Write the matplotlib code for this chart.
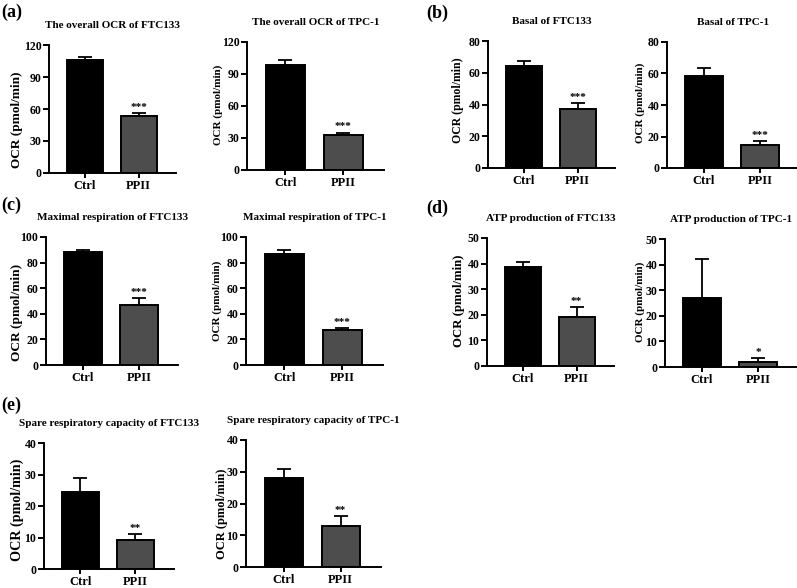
import numpy as np
import matplotlib.pyplot as plt

plt.rcParams['font.family'] = ['Liberation Serif', 'DejaVu Serif']
plt.rcParams['font.weight'] = 'bold'

groups = ['Ctrl', 'PPII']

titles = ['The overall OCR of FTC133', 'The overall OCR of TPC-1',
          'Basal of FTC133', 'Basal of TPC-1',
          'Maximal respiration of FTC133', 'Maximal respiration of TPC-1',
          'ATP production of FTC133', 'ATP production of TPC-1',
          'Spare respiratory capacity of FTC133', 'Spare respiratory capacity of TPC-1']

means = [[106, 53], [98, 33],
         [64, 37], [58.5, 14.5],
         [88.5, 46.5], [86.5, 27.5],
         [38.5, 19], [27, 2],
         [24.3, 9.3], [28, 13]]

errs = [[3, 3], [5, 2],
        [3.5, 4], [5, 2.5],
        [1, 6], [3.5, 1.5],
        [2, 4], [15, 1.5],
        [4.5, 1.7], [3, 3]]

stars = ['***', '***', '***', '***', '***', '***', '**', '*', '**', '**']

ymaxs = [120, 120, 80, 80, 100, 100, 50, 50, 40, 40]
ysteps = [30, 30, 20, 20, 20, 20, 10, 10, 10, 10]

# axes boxes in pixels: y-axis x, top (ymax) y, bottom (y=0) y, bar spacing
boxes = [(49, 45, 173, 54), (247, 42, 170, 58),
         (488, 41, 168, 54), (667, 42, 168, 56),
         (46, 237, 365, 56), (246, 237, 365, 58),
         (487, 238, 366, 54), (665, 239, 367, 56),
         (44, 443, 569, 55), (246, 440, 567, 57)]

# y-label centre (pixels) and size, the source panels were scaled unevenly
ylab_pos = [(17, 120), (218, 105), (458, 100), (640, 103), (17, 312),
            (217, 301), (459, 301), (640, 302), (17, 510), (222, 514)]
ylab_size = [9.5, 8, 8.5, 8, 9.6, 8, 9.2, 8, 10.2, 9]

panel_labels = ['(a)', '(b)', '(c)', '(d)', '(e)']
panel_pos = [(1, 12), (426, 13), (1, 205), (426, 208), (1, 405)]

W, H = 797, 588
fig = plt.figure(figsize=(W / 100, H / 100), dpi=100)

xlo, xhi = -0.66, 1.7
for i in range(10):
    x0, yt, yb, sp = boxes[i]
    axw = sp * (xhi - xlo)
    ax = fig.add_axes([x0 / W, 1 - yb / H, axw / W, (yb - yt) / H])
    xs = np.arange(2)
    ax.bar(xs, means[i], width=0.67, color=['black', '#4d4d4d'],
           edgecolor='black', linewidth=1.4, zorder=2)
    ax.errorbar(xs, means[i], yerr=[[0, 0], errs[i]], fmt='none',
                ecolor='black', elinewidth=1.3, capsize=4.8, capthick=1.3, zorder=1)
    top = means[i][1] + errs[i][1]
    ax.text(1, top + ymaxs[i] * 0.01, stars[i], ha='center', va='bottom',
            fontsize=8, fontweight='bold')
    ax.set_xlim(xlo, xhi)
    ax.set_ylim(0, ymaxs[i])
    ax.set_yticks(np.arange(0, ymaxs[i] + 1, ysteps[i]))
    ax.set_xticks(xs)
    ax.set_xticklabels(groups, fontsize=9, fontweight='bold')
    ax.tick_params(axis='y', labelsize=8.5, width=1.4, length=4, pad=1.5)
    ax.tick_params(axis='x', width=1.4, length=3.5, pad=1.5)
    for lbl in ax.get_yticklabels():
        lbl.set_fontweight('bold')
    for s in ['top', 'right']:
        ax.spines[s].set_visible(False)
    for s in ['left', 'bottom']:
        ax.spines[s].set_linewidth(1.4)
    ax.set_title(titles[i], fontsize=8, fontweight='bold', pad=12)
    lx, ly = ylab_pos[i]
    fig.text(lx / W, 1 - ly / H, 'OCR (pmol/min)', rotation=90,
             ha='center', va='center', fontsize=ylab_size[i], fontweight='bold')

for lbl, (px, py) in zip(panel_labels, panel_pos):
    fig.text(px / W, 1 - py / H, lbl, fontsize=13, fontweight='bold',
             ha='left', va='center')

fig.savefig('out.png', dpi=100)
